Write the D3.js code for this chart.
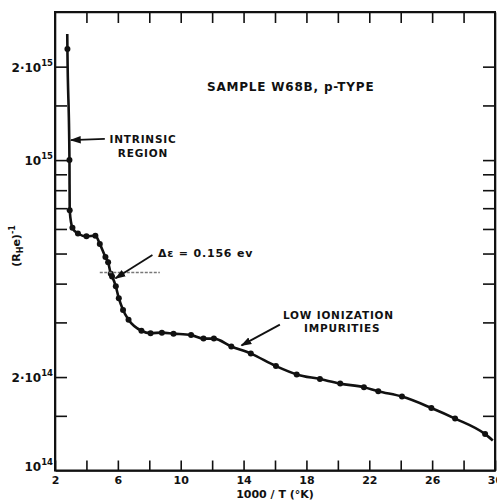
<!DOCTYPE html>
<html>
<head>
<meta charset="utf-8">
<script src="https://cdn.jsdelivr.net/npm/d3@7"></script>
<style>
  body { margin: 0; background: #fff; }
  svg text { font-family: "DejaVu Sans", sans-serif; font-weight: bold; fill: #111; }
  .axis path, .axis line { stroke: #111; }
</style>
</head>
<body>
<script>
// measured points, 1000/T and (R_H e)^-1
var ptX = [2.79, 2.92, 2.935, 3.11, 3.46, 4.0, 4.57, 4.85, 5.21, 5.38, 5.55, 5.63, 5.87, 6.06, 6.33, 6.68,
           7.50, 8.08, 8.80, 9.54, 10.66, 11.45, 12.11, 13.22, 14.46, 16.06, 17.38, 18.86, 20.15, 21.66,
           22.57, 24.08, 25.95, 27.46, 29.37];
var ptY = [2.28e15, 1.0e15, 6.89e14, 6.05e14, 5.80e14, 5.68e14, 5.71e14, 5.37e14, 4.87e14, 4.69e14, 4.30e14, 4.22e14,
           3.92e14, 3.59e14, 3.29e14, 3.06e14, 2.82e14, 2.77e14, 2.78e14, 2.76e14, 2.73e14, 2.66e14, 2.66e14,
           2.51e14, 2.38e14, 2.17e14, 2.04e14, 1.97e14, 1.905e14, 1.855e14, 1.80e14, 1.73e14, 1.59e14,
           1.47e14, 1.31e14];
// the drawn curve runs a bit past the first and last points
var curveStart = [2.78, 2.55e15];
var curveEnd = [29.86, 1.25e14];

var xTicks = d3.range(2, 31, 2);
var xLabels = [2, 6, 10, 14, 18, 22, 26, 30];
var yTicks = [1.5e14, 2e14, 3e14, 4e14, 5e14, 6e14, 7e14, 8e14, 9e14, 1e15, 1.5e15, 2e15];
var yLabels = [[1e14, "", "14"], [2e14, "2·", "14"], [1e15, "", "15"], [2e15, "2·", "15"]];

var W = 497, H = 504;
var mLeft = 55, mRight = 495, mTop = 12, mBottom = 470.5;

var svg = d3.select("body").append("svg")
    .attr("width", W)
    .attr("height", H);

var x = d3.scaleLinear().domain([2, 30]).range([mLeft, mRight]);
var y = d3.scaleLog().domain([1e14, 3e15]).range([mBottom, mTop]);

// axes, ticks all pointing inward
svg.append("g").attr("class", "axis")
    .attr("transform", "translate(0," + mBottom + ")")
    .call(d3.axisBottom(x).tickValues(xTicks).tickSize(-10).tickSizeOuter(0)
        .tickFormat(function (d) { return xLabels.indexOf(d) >= 0 ? d : ""; }))
    .call(function (g) {
        g.selectAll("text").attr("dy", null).attr("y", 13).style("font-size", "11px");
    });

svg.append("g").attr("class", "axis")
    .attr("transform", "translate(0," + mTop + ")")
    .call(d3.axisTop(x).tickValues(xTicks.slice(1, -1)).tickSize(-11).tickSizeOuter(0).tickFormat(""));

svg.append("g").attr("class", "axis")
    .attr("transform", "translate(" + mLeft + ",0)")
    .call(d3.axisLeft(y).tickValues(yTicks).tickSize(-12).tickSizeOuter(0).tickFormat(""));

svg.append("g").attr("class", "axis")
    .attr("transform", "translate(" + mRight + ",0)")
    .call(d3.axisRight(y).tickValues(yTicks).tickSize(-12).tickSizeOuter(0).tickFormat(""));

svg.selectAll(".axis path, .axis line").attr("stroke-width", 1.6);

// frame
svg.append("rect")
    .attr("x", mLeft).attr("y", mTop)
    .attr("width", mRight - mLeft).attr("height", mBottom - mTop)
    .attr("fill", "none").attr("stroke", "#111").attr("stroke-width", 2);

// y tick labels with exponents
var yl = svg.append("g").selectAll("text")
    .data(yLabels)
    .enter().append("text")
    .attr("x", mLeft - 2)
    .attr("y", function (d) { return y(d[0]) + (d[0] === 1e14 ? 0 : 5); })
    .attr("text-anchor", "end")
    .style("font-size", "12px");
yl.append("tspan").text(function (d) { return d[1] + "10"; });
yl.append("tspan").attr("dy", -6).style("font-size", "8.5px").text(function (d) { return d[2]; });

// axis titles
svg.append("text")
    .attr("x", (mLeft + mRight) / 2)
    .attr("y", 498)
    .attr("text-anchor", "middle")
    .style("font-size", "11px")
    .text("1000 / T (°K)");

var yt = svg.append("text")
    .attr("transform", "translate(20,246) rotate(-90)")
    .attr("text-anchor", "middle")
    .style("font-size", "11px");
yt.append("tspan").text("(R");
yt.append("tspan").attr("dy", 3).style("font-size", "8px").text("H");
yt.append("tspan").attr("dy", -3).text("e)");
yt.append("tspan").attr("dy", -5).style("font-size", "8px").text("-1");

// curve and points
var pts = ptX.map(function (d, i) { return [d, ptY[i]]; });
var curvePts = [curveStart].concat(pts, [curveEnd]);

var line = d3.line()
    .x(function (d) { return x(d[0]); })
    .y(function (d) { return y(d[1]); })
    .curve(d3.curveMonotoneX);

svg.append("path")
    .datum(curvePts)
    .attr("d", line)
    .attr("fill", "none")
    .attr("stroke", "#111")
    .attr("stroke-width", 2.6);

svg.append("g").selectAll("circle")
    .data(pts)
    .enter().append("circle")
    .attr("cx", function (d) { return x(d[0]); })
    .attr("cy", function (d) { return y(d[1]); })
    .attr("r", 3)
    .attr("fill", "#111");

// annotations
svg.append("defs").append("marker")
    .attr("id", "arr")
    .attr("viewBox", "0 0 10 10")
    .attr("refX", 9).attr("refY", 5)
    .attr("markerWidth", 6).attr("markerHeight", 6)
    .attr("orient", "auto")
    .append("path").attr("d", "M0,1.5L10,5L0,8.5Z").attr("fill", "#111");

function arrow(x1, y1, x2, y2) {
    svg.append("line")
        .attr("x1", x(x1)).attr("y1", y(y1))
        .attr("x2", x(x2)).attr("y2", y(y2))
        .attr("stroke", "#111").attr("stroke-width", 1.8)
        .attr("marker-end", "url(#arr)");
}

function label(px, py, s, size, anchor) {
    svg.append("text")
        .attr("x", px).attr("y", py)
        .attr("text-anchor", anchor || "start")
        .style("font-size", (size || 10) + "px")
        .style("letter-spacing", "0.8px")
        .text(s);
}

label(207, 91, "SAMPLE  W68B, p-TYPE", 12);

arrow(5.17, 1.17e15, 3.02, 1.16e15);
label(143, 143, "INTRINSIC", 10.5, "middle");
label(143, 157, "REGION", 10.5, "middle");

// dashed slope line for the activation energy
svg.append("line")
    .attr("x1", x(4.85)).attr("x2", x(8.67))
    .attr("y1", y(4.34e14)).attr("y2", y(4.34e14))
    .attr("stroke", "#777").attr("stroke-width", 1.5)
    .attr("stroke-dasharray", "3,1.5");
arrow(8.2, 4.95e14, 5.85, 4.16e14);
label(158, 257, "Δε = 0.156  ev", 11);

arrow(16.31, 2.95e14, 13.87, 2.53e14);
label(283, 319, "LOW  IONIZATION", 10.5);
label(304, 332, "IMPURITIES", 10.5);
</script>
</body>
</html>
